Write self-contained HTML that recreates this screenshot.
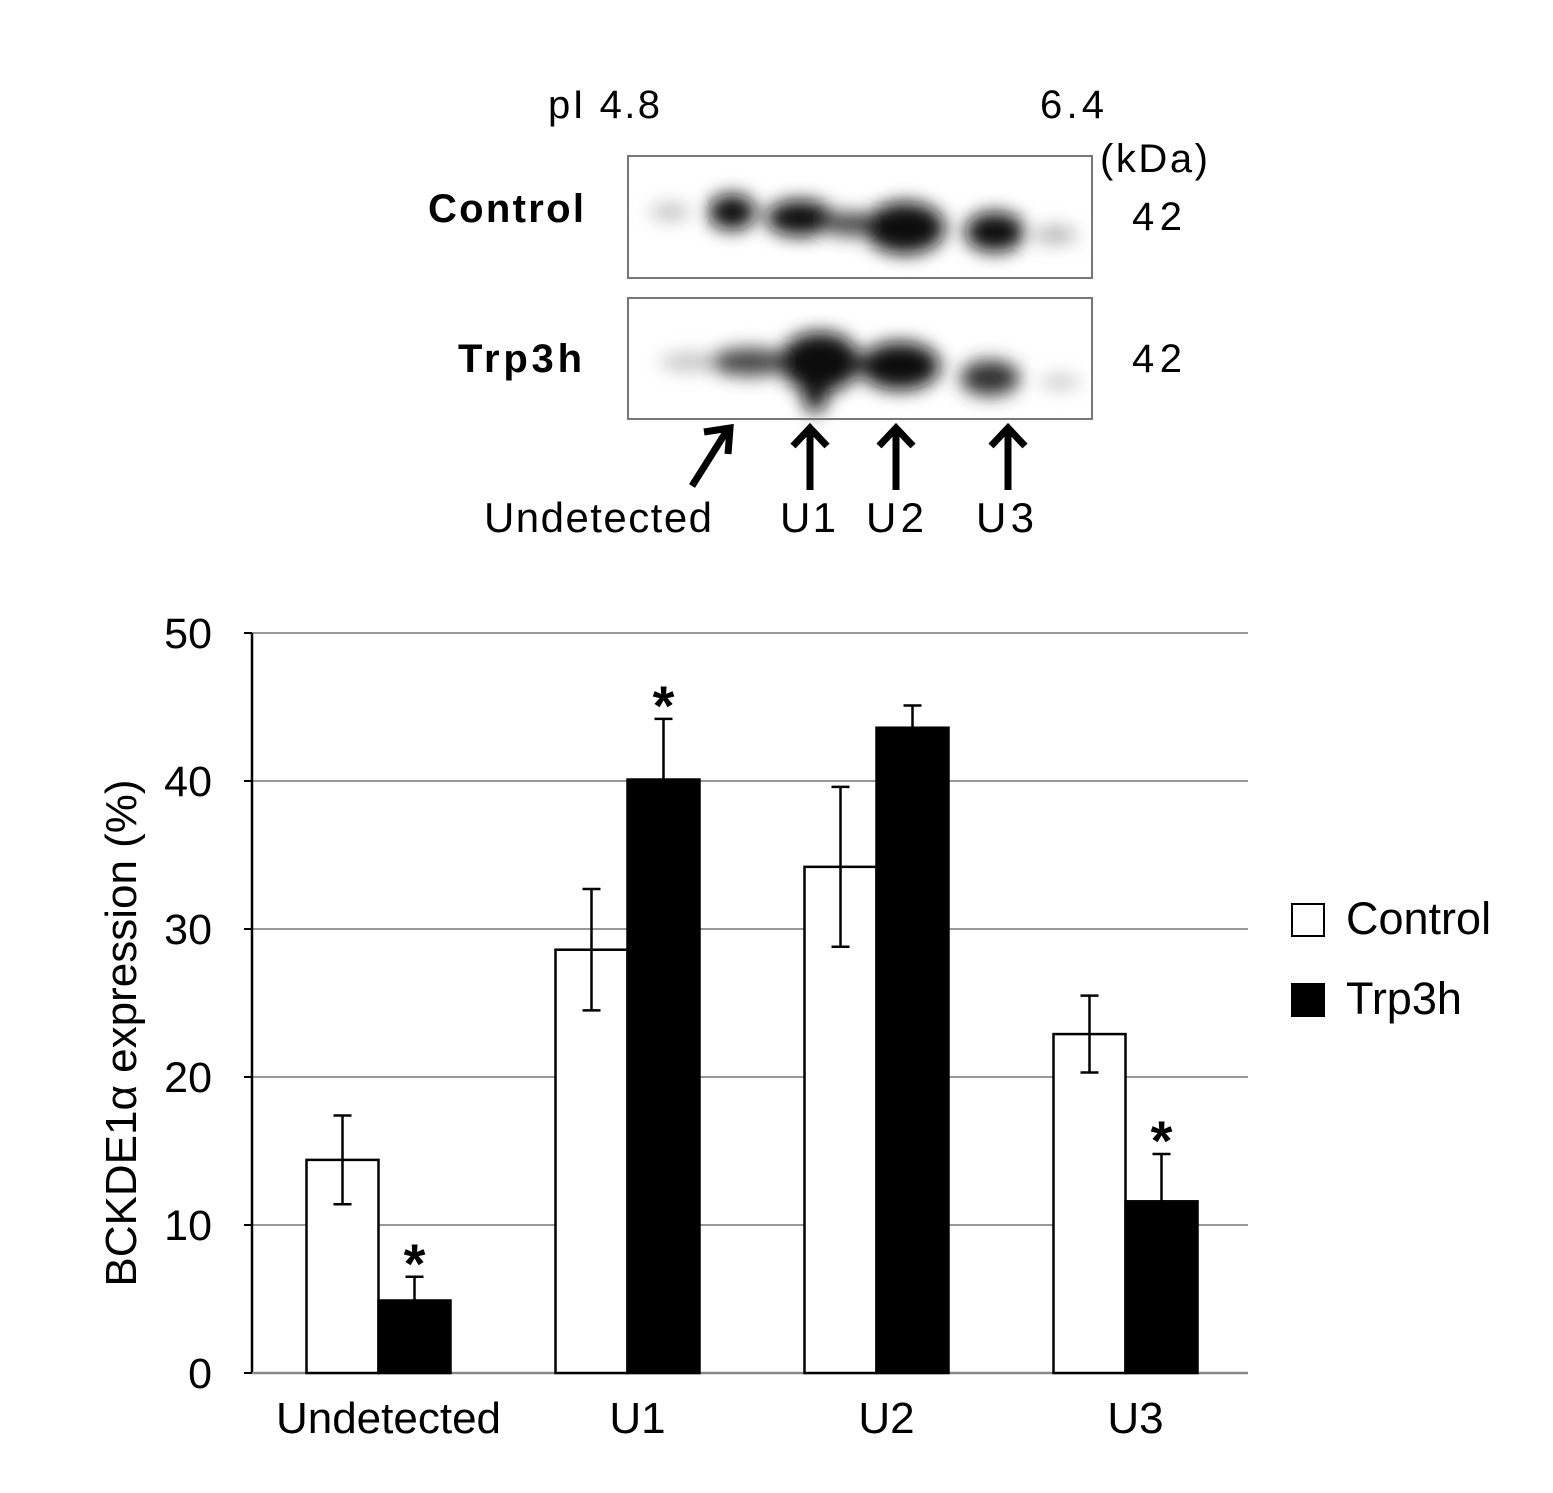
<!DOCTYPE html>
<html><head><meta charset="utf-8"><style>
body{margin:0;background:#fff;}
svg{display:block;font-family:"Liberation Sans",sans-serif;}
</style></head><body>
<svg width="1553" height="1493" viewBox="0 0 1553 1493">
<defs>
<filter id="bl" x="-50%" y="-50%" width="200%" height="200%"><feGaussianBlur stdDeviation="9"/></filter>
</defs>
<g>
<text x="548" y="118" font-size="40" textLength="112">pI 4.8</text>
<text x="1040" y="118" font-size="40" textLength="64">6.4</text>
<text x="1100" y="172" font-size="40" textLength="108">(kDa)</text>
<text x="428" y="222" font-size="40" font-weight="bold" textLength="156">Control</text>
<text x="458" y="372" font-size="40" font-weight="bold" textLength="124">Trp3h</text>
<text x="1132" y="230" font-size="40" textLength="50">42</text>
<text x="1132" y="372" font-size="40" textLength="50">42</text>
<rect x="628" y="156" width="464" height="122" fill="#fff" stroke="#777" stroke-width="2"/>
<g filter="url(#bl)" fill="#111">
<ellipse cx="670" cy="212" rx="20" ry="8" fill="#bbb"/>
<ellipse cx="732" cy="212" rx="24" ry="18"/>
<ellipse cx="800" cy="218" rx="34" ry="18"/>
<ellipse cx="850" cy="224" rx="26" ry="12" fill="#444"/>
<ellipse cx="905" cy="228" rx="40" ry="26"/>
<ellipse cx="995" cy="232" rx="30" ry="20"/>
<ellipse cx="1055" cy="235" rx="22" ry="8" fill="#aaa"/>
</g>
<rect x="628" y="298" width="464" height="121" fill="none" stroke="#777" stroke-width="2"/>
<g filter="url(#bl)" fill="#111">
<ellipse cx="690" cy="362" rx="30" ry="8" fill="#bbb"/>
<ellipse cx="750" cy="362" rx="40" ry="14" fill="#444"/>
<ellipse cx="820" cy="362" rx="40" ry="30"/>
<ellipse cx="815" cy="395" rx="12" ry="18"/>
<ellipse cx="900" cy="366" rx="40" ry="24"/>
<ellipse cx="990" cy="378" rx="30" ry="18" fill="#333"/>
<ellipse cx="1060" cy="382" rx="20" ry="6" fill="#bbb"/>
</g>
<rect x="628" y="298" width="464" height="121" fill="none" stroke="#777" stroke-width="2"/>
<g stroke="#000" stroke-width="7" fill="none">
<line x1="692" y1="486" x2="726" y2="432"/><path d="M704,432 L730,428 L728,454"/>
<line x1="810" y1="490" x2="810" y2="428"/><path d="M793,446 L810,428 L827,446"/>
<line x1="896" y1="490" x2="896" y2="428"/><path d="M879,446 L896,428 L913,446"/>
<line x1="1008" y1="490" x2="1008" y2="428"/><path d="M991,446 L1008,428 L1025,446"/>
</g>
<text x="484" y="532" font-size="42" textLength="228">Undetected</text>
<text x="780" y="532" font-size="42" textLength="56">U1</text>
<text x="866" y="532" font-size="42" textLength="58">U2</text>
<text x="976" y="532" font-size="42" textLength="58">U3</text>
</g>
<g id="chart"></g>
</svg>
<script>
const categories=["Undetected","U1","U2","U3"];
const controlValues=[14.4,28.6,34.2,22.9];
const controlErrors=[3.0,4.1,5.4,2.6];
const trpValues=[4.9,40.1,43.6,11.6];
const trpErrors=[1.6,4.1,1.5,3.2];
const trpSignificant=[true,true,false,true];
const yTicks=[0,10,20,30,40,50];
const NS="http://www.w3.org/2000/svg";
const g=document.getElementById('chart');
const x0=252,x1=1248,yb=1373,yt=633,ymax=50;
const y=v=>yb-(v/ymax)*(yb-yt);
const gw=(x1-x0)/categories.length;
const xc=i=>x0+gw*(i+0.5)+2;
function mk(t,a,txt){const e=document.createElementNS(NS,t);for(const k in a)e.setAttribute(k,a[k]);if(txt!==undefined)e.textContent=txt;g.appendChild(e);return e;}
yTicks.forEach(t=>{
 if(t>0){const l=mk('line',{x1:x0,x2:x1,y1:y(t),y2:y(t),stroke:'#999','stroke-width':2});
 
 }
 const tx=mk('text',{x:212,y:y(t)+15,'font-size':43,'text-anchor':'end'},t);
 
 
 const tk=mk('line',{x1:x0-8,x2:x0,y1:y(t),y2:y(t),stroke:'#000','stroke-width':2});
 
 
});
const ax=mk('line',{x1:x0,x2:x0,y1:yt,y2:yb,stroke:'#000','stroke-width':2.5});


const xa=mk('line',{x1:x0,x2:x1,y1:yb,y2:yb,stroke:'#888','stroke-width':2.5});


const bw=72;
function bar(cx,v,e,fill,name){
 const r=mk('rect',{x:cx,y:y(v),width:bw,height:yb-y(v),fill:fill,stroke:'#000','stroke-width':2.5});
 
 
 const m=cx+bw/2;
 const eb=mk('path',{d:`M${m},${y(v-e)}V${y(v+e)}M${m-9},${y(v+e)}H${m+9}M${m-9},${y(v-e)}H${m+9}`,stroke:'#000','stroke-width':2.5,fill:'none'});
 
 
}
categories.forEach((c,i)=>{
 bar(xc(i)-bw,controlValues[i],controlErrors[i],'#fff','bar-control-'+c.toLowerCase());
 bar(xc(i),trpValues[i],trpErrors[i],'#000','bar-trp3h-'+c.toLowerCase());
 if(trpSignificant[i]){const s=mk('text',{x:xc(i)+bw/2,y:y(trpValues[i]+trpErrors[i])+6,'font-size':56,'font-weight':'bold','text-anchor':'middle'},'*');
 
 }
 const lb=mk('text',{x:xc(i)+10,y:1433,'font-size':44,'text-anchor':'middle'},c);
 
 
});
const yl=mk('text',{x:0,y:0,'font-size':44,'text-anchor':'middle',transform:`translate(136,${(yt+yb)/2+30}) rotate(-90)`},'BCKDE1α expression (%)');


const l1=mk('rect',{x:1292,y:904,width:32,height:32,fill:'#fff',stroke:'#000','stroke-width':2});


const t1=mk('text',{x:1346,y:934,'font-size':45},'Control');


const l2=mk('rect',{x:1292,y:984,width:32,height:32,fill:'#000',stroke:'#000','stroke-width':2});


const t2=mk('text',{x:1346,y:1014,'font-size':45},'Trp3h');


</script>
</body></html>
